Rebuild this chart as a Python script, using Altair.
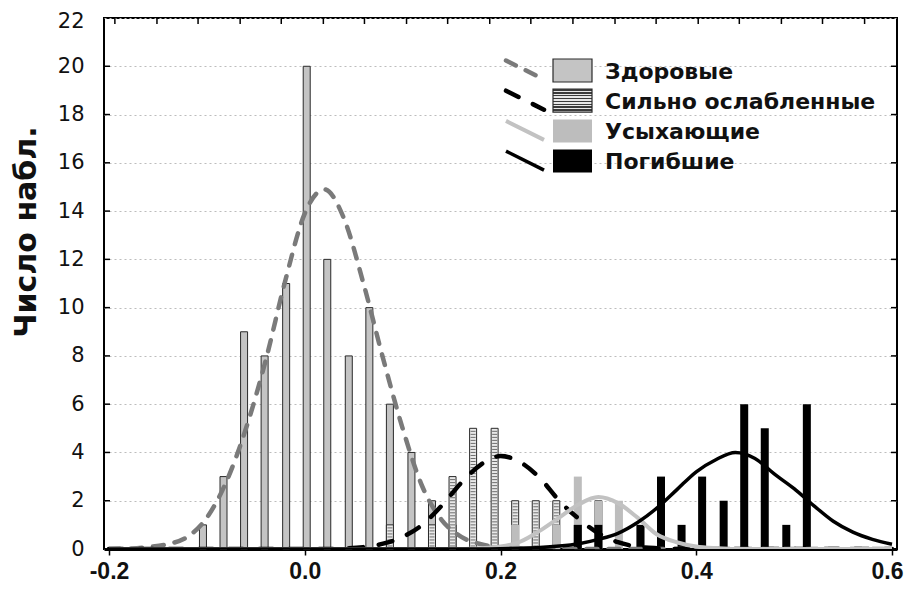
import altair as alt
import pandas as pd
import numpy as np

GROUPS = ["Здоровые", "Сильно ослабленные", "Усыхающие", "Погибшие"]
Y_TITLE = "Число набл."
X_TICKS = [-0.2, 0.0, 0.2, 0.4, 0.6]
Y_TICKS = [0, 2, 4, 6, 8, 10, 12, 14, 16, 18, 20, 22]
TOP_TICKS = [-0.194, -0.151, -0.109, -0.066, -0.024, 0.019, 0.061, 0.104, 0.146,
             0.189, 0.231, 0.274, 0.317, 0.359, 0.402, 0.444, 0.487, 0.529, 0.572]

BIN_CENTERS = [-0.104, -0.083, -0.062, -0.041, -0.019, 0.002, 0.023, 0.045, 0.066, 0.087,
               0.109, 0.130, 0.151, 0.172, 0.194, 0.215, 0.236, 0.257, 0.279, 0.300,
               0.321, 0.343, 0.364, 0.385, 0.406, 0.428, 0.449, 0.470, 0.492, 0.513]
HEALTHY = [1, 3, 9, 8, 11, 20, 12, 8, 10, 6, 4, 2, 1, 0, 0, 0, 0, 0, 0, 0,
           0, 0, 0, 0, 0, 0, 0, 0, 0, 0]
WEAK = [0, 0, 0, 0, 0, 0, 0, 0, 0, 1, 0, 1, 3, 5, 5, 2, 2, 2, 1, 2,
        0, 0, 0, 0, 0, 0, 0, 0, 0, 0]
DRYING = [0, 0, 0, 0, 0, 0, 0, 0, 0, 0, 0, 0, 0, 0, 0, 1, 0, 1, 3, 2,
          2, 1, 1, 0, 0, 0, 0, 0, 0, 0]
DEAD = [0, 0, 0, 0, 0, 0, 0, 0, 0, 0, 0, 0, 0, 0, 0, 0, 0, 0, 1, 1,
        0, 1, 3, 1, 3, 2, 6, 5, 1, 6]

CURVE_X = [-0.20, -0.18, -0.16, -0.14, -0.12, -0.10, -0.08, -0.06, -0.04, -0.02,
           0.00, 0.02, 0.04, 0.06, 0.08, 0.10, 0.12, 0.14, 0.16, 0.18,
           0.20, 0.22, 0.24, 0.26, 0.28, 0.30, 0.32, 0.34, 0.36, 0.38,
           0.40, 0.42, 0.44, 0.46, 0.48, 0.50, 0.52, 0.54, 0.56, 0.58, 0.60]
CURVE_HEALTHY = [0.0, 0.02, 0.08, 0.2, 0.5, 1.3, 2.8, 5.0, 7.8, 11.1,
                 13.9, 14.9, 13.7, 11.0, 7.9, 5.0, 2.6, 1.2, 0.5, 0.2,
                 0.07, 0.02, 0, 0, 0, 0, 0, 0, 0, 0,
                 0, 0, 0, 0, 0, 0, 0, 0, 0, 0, 0]
CURVE_WEAK = [0, 0, 0, 0, 0, 0, 0, 0, 0, 0,
              0, 0, 0.02, 0.08, 0.22, 0.5, 1.0, 1.8, 2.75, 3.5,
              3.85, 3.6, 2.95, 2.0, 1.25, 0.65, 0.28, 0.1, 0.03, 0,
              0, 0, 0, 0, 0, 0, 0, 0, 0, 0, 0]
CURVE_DRYING = [0, 0, 0, 0, 0, 0, 0, 0, 0, 0,
                0, 0, 0, 0, 0, 0, 0, 0, 0, 0.03,
                0.1, 0.3, 0.75, 1.3, 1.85, 2.15, 1.9, 1.3, 0.6, 0.28,
                0.1, 0.03, 0, 0, 0, 0, 0, 0, 0, 0, 0]
CURVE_DEAD = [0, 0, 0, 0, 0, 0, 0, 0, 0, 0,
              0, 0, 0, 0, 0, 0, 0, 0, 0, 0,
              0.01, 0.03, 0.06, 0.12, 0.22, 0.4, 0.65, 1.1, 1.7, 2.45,
              3.2, 3.7, 4.0, 3.75, 3.1, 2.5, 1.8, 1.15, 0.7, 0.4, 0.2]

# ---------------- layout / style ----------------
W, H = 793, 531
FONT = "DejaVu Sans"
XFONT = "Liberation Sans"
BAR_STYLE = {
    "Здоровые": dict(fill="#c4c4c4", stroke="#2a2a2a", strokeWidth=1, size=7),
    "Сильно ослабленные": dict(fill="#e8e8e8", stroke="#2a2a2a", strokeWidth=1, size=7),
    "Усыхающие": dict(fill="#bdbdbd", strokeWidth=0, size=8),
    "Погибшие": dict(fill="#000000", strokeWidth=0, size=8),
}
LINE_STYLE = {
    "Здоровые": dict(color="#7a7a7a", strokeWidth=4.5, strokeDash=[11, 11], strokeCap="round"),
    "Сильно ослабленные": dict(color="#000000", strokeWidth=4.5, strokeDash=[14, 16], strokeCap="round"),
    "Усыхающие": dict(color="#c2c2c2", strokeWidth=4),
    "Погибшие": dict(color="#000000", strokeWidth=3.5),
}

XS = alt.Scale(domain=[-0.2, 0.6], nice=False, zero=False)
YS = alt.Scale(domain=[0, 22], nice=False)
OFFS = alt.Scale(domain=GROUPS, range=[0, 4.2, 8.4, 12.6])

X_AXIS = alt.Axis(
    values=X_TICKS, title=None, grid=False, labelFlush=False,
    labelExpr="datum.value < 0 ? '-' + format(-datum.value, '.1f') : format(datum.value, '.1f')",
    labelFont=XFONT, labelFontWeight="bold", labelFontSize=23, labelColor="#111",
    labelOffset={"condition": {"test": "datum.value > 0.55", "value": -5}, "value": 0},
    labelPadding=5, tickSize=6, tickWidth=1.5, tickColor="#000",
    domainColor="#000", domainWidth=3,
)
Y_AXIS = alt.Axis(
    values=Y_TICKS, title=Y_TITLE, grid=True, gridColor="#bdbdbd", gridDash=[2, 3],
    gridWidth=1, ticks=False, domain=False, labelFlush=False,
    labelFont=FONT, labelFontSize=21, labelColor="#111", labelPadding=20,
    labelOffset={"condition": {"test": "datum.value > 21", "value": 3}, "value": 0},
    titleFont=FONT, titleFontSize=30, titleFontWeight="bold", titleColor="#111",
    titleX=-78, titleY=H / 2 - 52, titleBaseline="middle", titleAngle=-90,
)

# ---------------- tables ----------------
rows = []
for g, counts in zip(GROUPS, [HEALTHY, WEAK, DRYING, DEAD]):
    for b, c in zip(BIN_CENTERS, counts):
        if c > 0:
            rows.append({"group": g, "bin": b, "count": c})
bars_df = pd.DataFrame(rows)

stripe_rows = []
for b, c in zip(BIN_CENTERS, WEAK):
    if c > 0:
        for v in np.arange(0.125, c - 0.06, 0.125):
            stripe_rows.append({"group": GROUPS[1], "bin": b, "v": float(v)})
stripes_df = pd.DataFrame(stripe_rows)

curve_rows = []
for g, ys in zip(GROUPS, [CURVE_HEALTHY, CURVE_WEAK, CURVE_DRYING, CURVE_DEAD]):
    for x, y in zip(CURVE_X, ys):
        curve_rows.append({"group": g, "x": x, "y": y})
curves_df = pd.DataFrame(curve_rows)

layers = []
for g in GROUPS:
    layers.append(
        alt.Chart(bars_df).transform_filter(alt.datum.group == g)
        .mark_bar(**BAR_STYLE[g])
        .encode(
            x=alt.X("bin:Q", scale=XS, axis=X_AXIS),
            xOffset=alt.XOffset("group:N", scale=OFFS),
            y=alt.Y("count:Q", scale=YS, axis=Y_AXIS),
        )
    )
    if g == GROUPS[1]:
        layers.append(
            alt.Chart(stripes_df)
            .mark_tick(orient="horizontal", size=5, thickness=1, color="#3a3a3a")
            .encode(
                x=alt.X("bin:Q", scale=XS, axis=X_AXIS),
                xOffset=alt.XOffset("group:N", scale=OFFS),
                y=alt.Y("v:Q", scale=YS, axis=Y_AXIS),
            )
        )

for g in GROUPS:
    layers.append(
        alt.Chart(curves_df).transform_filter(alt.datum.group == g)
        .mark_line(interpolate="monotone", clip=True, **LINE_STYLE[g])
        .encode(
            x=alt.X("x:Q", scale=XS, axis=X_AXIS),
            y=alt.Y("y:Q", scale=YS, axis=Y_AXIS),
        )
    )

# inward ticks on top, left and right frame
top_df = pd.DataFrame({"t": TOP_TICKS})
layers.append(
    alt.Chart(top_df).mark_rule(color="#000", strokeWidth=1.5).encode(
        x=alt.X("t:Q", scale=XS, axis=X_AXIS), y=alt.value(0), y2=alt.value(6))
)
side_df = pd.DataFrame({"v": Y_TICKS[1:-1]})
for x0, x1 in [(0, 6), (W - 6, W)]:
    layers.append(
        alt.Chart(side_df).mark_rule(color="#000", strokeWidth=1.5).encode(
            y=alt.Y("v:Q", scale=YS, axis=Y_AXIS), x=alt.value(x0), x2=alt.value(x1))
    )

# legend
one = pd.DataFrame({"k": [0]})
LEG_ROW0, LEG_STEP = 52.5, 30.2
LINE_X0, LINE_X1 = 402, 440
BOX_X0, BOX_X1 = 449, 488
TEXT_X = 501
stripe_stops = []
n_str = 8
for i in range(n_str):
    a, b = i / n_str, (i + 0.5) / n_str
    c = (i + 1) / n_str
    stripe_stops += [{"offset": a, "color": "#3a3a3a"}, {"offset": b, "color": "#3a3a3a"},
                     {"offset": b, "color": "#e8e8e8"}, {"offset": c, "color": "#e8e8e8"}]
BOX_FILL = {
    "Здоровые": "#c4c4c4",
    "Сильно ослабленные": {"gradient": "linear", "x1": 0, "y1": 0, "x2": 0, "y2": 1,
                           "stops": stripe_stops},
    "Усыхающие": "#bdbdbd",
    "Погибшие": "#000000",
}
for i, g in enumerate(GROUPS):
    cy = LEG_ROW0 + i * LEG_STEP
    ls = dict(LINE_STYLE[g])
    layers.append(
        alt.Chart(one).mark_rule(**ls).encode(
            x=alt.value(LINE_X0), x2=alt.value(LINE_X1),
            y=alt.value(cy - 10), y2=alt.value(cy + 9))
    )
    rect_kw = dict(fill=BOX_FILL[g])
    if g in ("Здоровые", "Сильно ослабленные"):
        rect_kw.update(stroke="#2a2a2a", strokeWidth=1.2)
    layers.append(
        alt.Chart(one).mark_rect(**rect_kw).encode(
            x=alt.value(BOX_X0), x2=alt.value(BOX_X1),
            y=alt.value(cy - 11.5), y2=alt.value(cy + 11.5))
    )
    layers.append(
        alt.Chart(pd.DataFrame({"label": [g]})).mark_text(
            align="left", baseline="middle", font=FONT, fontWeight="bold",
            fontSize=22, color="#111").encode(
            x=alt.value(TEXT_X), y=alt.value(cy + 1), text="label:N")
    )

chart = alt.layer(*layers).properties(
    width=W, height=H,
    autosize=alt.AutoSizeParams(type="none"),
    padding={"left": 96, "top": 10, "right": 11, "bottom": 34},
).configure_view(stroke="#000", strokeWidth=2)

chart.save("out.html", embed_options={"renderer": "svg", "actions": False})
